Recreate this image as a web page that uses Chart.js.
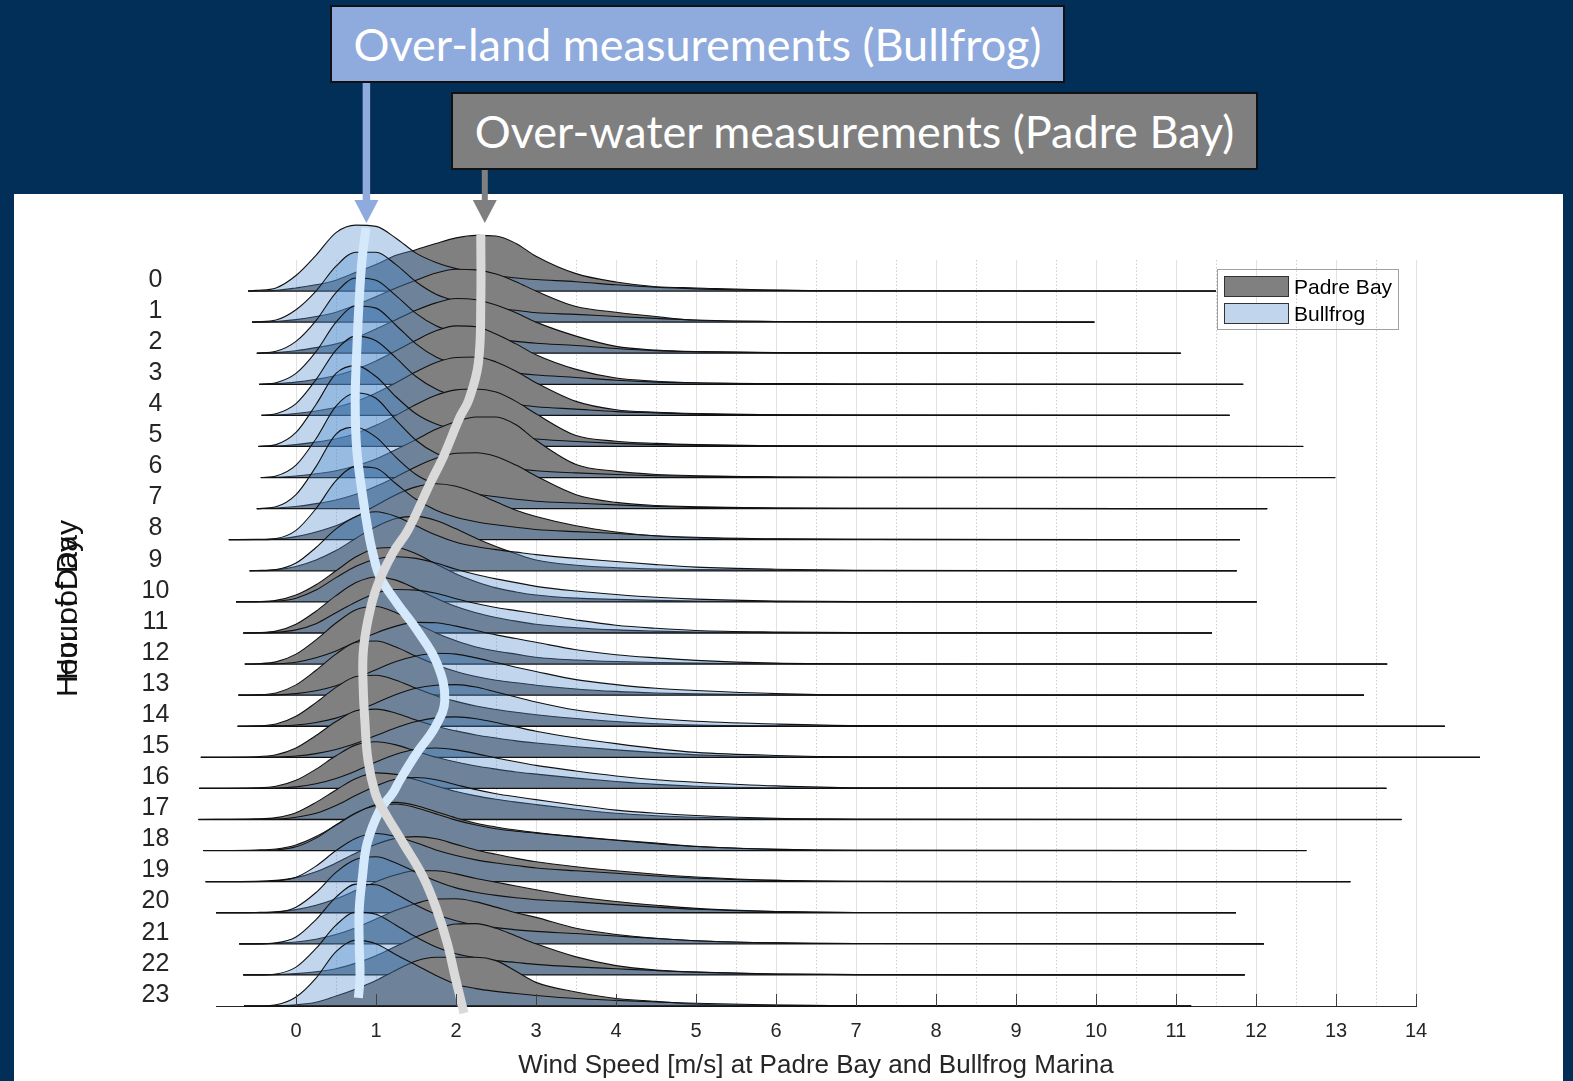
<!DOCTYPE html>
<html>
<head>
<meta charset="utf-8">
<title>Wind speed by hour of day</title>
<script src="https://cdn.jsdelivr.net/npm/chart.js@4.4.1/dist/chart.umd.min.js"></script>
<style>
  html, body { margin: 0; padding: 0; }
  body { width: 1573px; height: 1081px; background: #012f57; position: relative; overflow: hidden;
         font-family: "Liberation Sans", Arial, sans-serif; }
  #panel { position: absolute; left: 14px; top: 194px; width: 1549px; height: 887px; background: #fff; }
  #ridgeCanvas { position: absolute; left: 0; top: 0; }
  .callout { position: absolute; box-sizing: border-box; border: 2px solid #111; color: #fff;
             font-family: Lato, "Open Sans", sans-serif; font-size: 45px; display: flex;
             align-items: center; justify-content: center; white-space: nowrap; }
  #landBox { left: 330px; top: 5px; width: 735px; height: 78px; background: #8faadc; }
  #waterBox { left: 451px; top: 92px; width: 807px; height: 78px; background: #7f7f7f; }
  #legend { position: absolute; left: 1217px; top: 269px; width: 182px; height: 61px;
            box-sizing: border-box; border: 1px solid #a0a0a0; }
  .swatch { position: absolute; left: 6px; width: 65px; height: 21px; box-sizing: border-box; border: 1px solid #333; }
  .legText { position: absolute; left: 76px; font-size: 21px; line-height: 24px; color: #000; }
  .ytitle { position: absolute; font-size: 30px; color: #111; white-space: nowrap;
            transform: translate(-50%, -50%) rotate(-90deg); }
</style>
</head>
<body>
<div id="panel"></div>
<canvas id="ridgeCanvas" width="1573" height="1081"></canvas>
<div class="ytitle" style="left:67px; top:600px;">Hour of Day</div>
<div class="ytitle" style="left:67px; top:617px;">Hour of Day</div>
<div id="legend">
  <div class="swatch" style="top:6px; background:#808080;"></div>
  <div class="legText" style="top:5px;">Padre Bay</div>
  <div class="swatch" style="top:33px; background:#c1d6ed;"></div>
  <div class="legText" style="top:32px;">Bullfrog</div>
</div>
<div class="callout" id="landBox">Over-land measurements (Bullfrog)</div>
<div class="callout" id="waterBox">Over-water measurements (Padre Bay)</div>

<script>
// Hours shown as ridges, top (0) to bottom (23)
var hours = [0, 1, 2, 3, 4, 5, 6, 7, 8, 9, 10, 11, 12, 13, 14, 15, 16, 17, 18, 19, 20, 21, 22, 23];
var windTicks = [0, 1, 2, 3, 4, 5, 6, 7, 8, 9, 10, 11, 12, 13, 14];

// Wind speeds (m/s) where the ridge heights are sampled
var windGrid = [-0.5, -0.25, 0, 0.25, 0.5, 0.75, 1, 1.25, 1.5, 1.75, 2, 2.25, 2.5, 2.75, 3, 3.5, 4, 4.5, 5, 6, 7];

// Where each hour's curve begins and ends on the speed axis
var rowStart = [-0.6, -0.55, -0.49, -0.46, -0.43, -0.47, -0.44, -0.49, -0.84, -0.58, -0.75, -0.66,
                -0.64, -0.72, -0.73, -1.19, -1.21, -1.22, -1.16, -1.13, -1.0, -0.71, -0.66, -0.65];
var rowEnd = [11.5, 9.98, 11.06, 11.84, 11.67, 12.59, 12.99, 12.14, 11.8, 11.76, 12.01, 11.45,
              13.64, 13.35, 14.36, 14.8, 13.63, 13.82, 12.63, 13.18, 11.75, 12.1, 11.86, 11.19];

// Ridge heights per hour (1.0 = one row spacing), sampled at windGrid
var padreDensity = [
  [0.0, 0.02, 0.1, 0.2, 0.35, 0.6, 0.85, 1.15, 1.33, 1.53, 1.71, 1.79, 1.77, 1.53, 1.12, 0.56, 0.29, 0.14, 0.1, 0.03, 0.01],
  [0.0, 0.02, 0.08, 0.18, 0.32, 0.55, 0.82, 1.1, 1.35, 1.58, 1.7, 1.68, 1.55, 1.3, 1.0, 0.5, 0.32, 0.18, 0.06, 0.02, 0.01],
  [0.0, 0.02, 0.08, 0.18, 0.3, 0.5, 0.78, 1.08, 1.38, 1.62, 1.76, 1.72, 1.55, 1.3, 1.0, 0.55, 0.22, 0.1, 0.05, 0.02, 0.01],
  [0.0, 0.02, 0.07, 0.16, 0.28, 0.48, 0.75, 1.08, 1.42, 1.72, 1.88, 1.85, 1.62, 1.3, 0.95, 0.48, 0.2, 0.1, 0.05, 0.02, 0.01],
  [0.0, 0.01, 0.06, 0.14, 0.26, 0.45, 0.72, 1.05, 1.4, 1.7, 1.86, 1.88, 1.72, 1.42, 1.05, 0.45, 0.18, 0.1, 0.06, 0.02, 0.01],
  [0.0, 0.01, 0.06, 0.14, 0.25, 0.42, 0.68, 1.0, 1.35, 1.65, 1.82, 1.85, 1.75, 1.45, 1.05, 0.35, 0.17, 0.1, 0.06, 0.02, 0.01],
  [0.0, 0.01, 0.05, 0.12, 0.22, 0.38, 0.6, 0.9, 1.22, 1.55, 1.8, 1.95, 1.95, 1.7, 1.2, 0.42, 0.2, 0.1, 0.06, 0.02, 0.01],
  [0.0, 0.02, 0.07, 0.16, 0.28, 0.46, 0.72, 1.02, 1.35, 1.62, 1.78, 1.8, 1.68, 1.4, 1.05, 0.45, 0.2, 0.1, 0.06, 0.02, 0.01],
  [0.0, 0.02, 0.1, 0.25, 0.45, 0.75, 1.1, 1.45, 1.7, 1.8, 1.72, 1.5, 1.22, 0.95, 0.75, 0.45, 0.25, 0.12, 0.06, 0.02, 0.01],
  [0.0, 0.03, 0.14, 0.35, 0.65, 1.05, 1.42, 1.68, 1.75, 1.62, 1.35, 1.05, 0.78, 0.55, 0.35, 0.18, 0.1, 0.06, 0.04, 0.02, 0.01],
  [0.01, 0.05, 0.22, 0.55, 1.0, 1.45, 1.72, 1.75, 1.55, 1.22, 0.9, 0.65, 0.45, 0.32, 0.22, 0.12, 0.08, 0.05, 0.03, 0.01, 0.0],
  [0.01, 0.06, 0.28, 0.7, 1.2, 1.62, 1.8, 1.7, 1.42, 1.12, 0.85, 0.65, 0.5, 0.38, 0.28, 0.17, 0.1, 0.06, 0.03, 0.01, 0.0],
  [0.01, 0.07, 0.32, 0.78, 1.32, 1.75, 1.85, 1.65, 1.32, 1.0, 0.75, 0.55, 0.42, 0.32, 0.22, 0.13, 0.08, 0.05, 0.03, 0.01, 0.0],
  [0.01, 0.07, 0.33, 0.8, 1.32, 1.7, 1.74, 1.55, 1.25, 0.98, 0.76, 0.6, 0.48, 0.4, 0.32, 0.2, 0.12, 0.07, 0.04, 0.01, 0.0],
  [0.01, 0.07, 0.32, 0.76, 1.25, 1.6, 1.64, 1.48, 1.22, 0.98, 0.8, 0.65, 0.54, 0.45, 0.37, 0.25, 0.15, 0.08, 0.04, 0.01, 0.0],
  [0.02, 0.08, 0.3, 0.7, 1.15, 1.5, 1.55, 1.42, 1.2, 1.0, 0.85, 0.72, 0.62, 0.53, 0.46, 0.34, 0.24, 0.15, 0.08, 0.02, 0.01],
  [0.02, 0.07, 0.26, 0.62, 1.05, 1.4, 1.5, 1.4, 1.2, 1.0, 0.85, 0.72, 0.62, 0.53, 0.46, 0.33, 0.22, 0.13, 0.07, 0.02, 0.01],
  [0.02, 0.06, 0.22, 0.55, 0.95, 1.32, 1.5, 1.45, 1.28, 1.08, 0.9, 0.76, 0.65, 0.56, 0.48, 0.33, 0.2, 0.12, 0.07, 0.02, 0.01],
  [0.02, 0.05, 0.18, 0.45, 0.82, 1.2, 1.48, 1.55, 1.45, 1.25, 1.05, 0.88, 0.76, 0.66, 0.58, 0.45, 0.34, 0.24, 0.14, 0.04, 0.01],
  [0.01, 0.04, 0.13, 0.32, 0.6, 0.92, 1.2, 1.4, 1.45, 1.38, 1.2, 1.02, 0.88, 0.75, 0.64, 0.48, 0.35, 0.24, 0.15, 0.04, 0.01],
  [0.01, 0.03, 0.1, 0.24, 0.45, 0.72, 1.0, 1.22, 1.35, 1.35, 1.25, 1.1, 0.98, 0.86, 0.74, 0.52, 0.36, 0.24, 0.14, 0.04, 0.01],
  [0.0, 0.02, 0.06, 0.15, 0.3, 0.52, 0.8, 1.08, 1.3, 1.44, 1.45, 1.35, 1.18, 1.0, 0.85, 0.5, 0.3, 0.18, 0.1, 0.03, 0.01],
  [0.0, 0.01, 0.04, 0.1, 0.2, 0.38, 0.62, 0.92, 1.22, 1.48, 1.64, 1.65, 1.5, 1.25, 1.0, 0.58, 0.3, 0.16, 0.09, 0.03, 0.01],
  [0.0, 0.01, 0.04, 0.12, 0.32, 0.55, 0.82, 1.15, 1.45, 1.57, 1.57, 1.57, 1.46, 1.12, 0.76, 0.45, 0.24, 0.15, 0.06, 0.02, 0.01]
];

var bullfrogDensity = [
  [0.02, 0.1, 0.5, 1.15, 1.88, 2.12, 2.08, 1.7, 1.22, 0.92, 0.72, 0.6, 0.5, 0.42, 0.37, 0.3, 0.2, 0.12, 0.07, 0.02, 0.01],
  [0.01, 0.07, 0.4, 1.0, 1.8, 2.25, 2.25, 1.85, 1.3, 0.9, 0.68, 0.55, 0.45, 0.38, 0.3, 0.25, 0.18, 0.12, 0.07, 0.02, 0.01],
  [0.01, 0.06, 0.38, 1.05, 1.95, 2.42, 2.35, 1.85, 1.28, 0.88, 0.66, 0.53, 0.45, 0.38, 0.32, 0.25, 0.15, 0.08, 0.05, 0.02, 0.01],
  [0.01, 0.05, 0.35, 1.05, 2.0, 2.52, 2.45, 1.9, 1.3, 0.88, 0.65, 0.52, 0.44, 0.36, 0.3, 0.22, 0.13, 0.07, 0.04, 0.02, 0.01],
  [0.01, 0.05, 0.38, 1.15, 2.1, 2.55, 2.4, 1.85, 1.25, 0.85, 0.62, 0.5, 0.42, 0.35, 0.28, 0.2, 0.12, 0.08, 0.04, 0.02, 0.01],
  [0.01, 0.06, 0.45, 1.35, 2.35, 2.6, 2.25, 1.6, 1.05, 0.72, 0.55, 0.45, 0.37, 0.3, 0.24, 0.16, 0.1, 0.06, 0.04, 0.02, 0.01],
  [0.01, 0.05, 0.4, 1.25, 2.3, 2.72, 2.55, 1.85, 1.2, 0.78, 0.57, 0.45, 0.36, 0.28, 0.22, 0.15, 0.1, 0.06, 0.04, 0.02, 0.01],
  [0.01, 0.06, 0.45, 1.35, 2.4, 2.62, 2.3, 1.65, 1.1, 0.78, 0.6, 0.47, 0.38, 0.3, 0.24, 0.18, 0.12, 0.07, 0.04, 0.02, 0.01],
  [0.01, 0.04, 0.3, 1.0, 1.9, 2.35, 2.3, 1.8, 1.3, 0.95, 0.72, 0.58, 0.48, 0.4, 0.33, 0.26, 0.2, 0.13, 0.08, 0.03, 0.01],
  [0.01, 0.04, 0.25, 0.75, 1.35, 1.75, 1.9, 1.75, 1.45, 1.15, 0.92, 0.78, 0.68, 0.6, 0.52, 0.4, 0.3, 0.2, 0.12, 0.05, 0.02],
  [0.0, 0.02, 0.12, 0.38, 0.78, 1.15, 1.38, 1.45, 1.4, 1.25, 1.05, 0.88, 0.74, 0.62, 0.5, 0.35, 0.24, 0.15, 0.09, 0.03, 0.01],
  [0.0, 0.02, 0.1, 0.3, 0.65, 1.0, 1.28, 1.4, 1.38, 1.28, 1.1, 0.95, 0.82, 0.72, 0.62, 0.42, 0.25, 0.15, 0.08, 0.03, 0.01],
  [0.0, 0.01, 0.06, 0.2, 0.42, 0.72, 1.0, 1.22, 1.34, 1.33, 1.22, 1.08, 0.94, 0.82, 0.7, 0.46, 0.3, 0.2, 0.12, 0.03, 0.01],
  [0.0, 0.01, 0.05, 0.14, 0.3, 0.55, 0.82, 1.08, 1.26, 1.35, 1.32, 1.2, 1.05, 0.9, 0.76, 0.5, 0.34, 0.22, 0.15, 0.05, 0.01],
  [0.0, 0.01, 0.04, 0.12, 0.26, 0.48, 0.75, 1.02, 1.22, 1.32, 1.34, 1.26, 1.1, 0.94, 0.78, 0.52, 0.36, 0.24, 0.16, 0.07, 0.02],
  [0.0, 0.01, 0.04, 0.12, 0.25, 0.45, 0.7, 0.95, 1.15, 1.27, 1.3, 1.24, 1.12, 0.98, 0.84, 0.62, 0.44, 0.28, 0.16, 0.06, 0.02],
  [0.0, 0.01, 0.05, 0.15, 0.32, 0.56, 0.85, 1.1, 1.26, 1.3, 1.24, 1.12, 0.98, 0.86, 0.74, 0.56, 0.4, 0.28, 0.2, 0.08, 0.02],
  [0.0, 0.01, 0.07, 0.2, 0.45, 0.78, 1.08, 1.3, 1.35, 1.28, 1.12, 0.96, 0.83, 0.73, 0.64, 0.46, 0.3, 0.2, 0.13, 0.04, 0.01],
  [0.0, 0.02, 0.12, 0.4, 0.82, 1.22, 1.45, 1.5, 1.38, 1.18, 0.98, 0.82, 0.7, 0.62, 0.56, 0.44, 0.33, 0.22, 0.13, 0.04, 0.01],
  [0.0, 0.02, 0.14, 0.5, 1.0, 1.4, 1.55, 1.45, 1.25, 1.02, 0.84, 0.7, 0.6, 0.52, 0.44, 0.35, 0.27, 0.18, 0.11, 0.04, 0.01],
  [0.0, 0.02, 0.18, 0.65, 1.3, 1.72, 1.8, 1.6, 1.3, 1.02, 0.8, 0.66, 0.56, 0.48, 0.42, 0.35, 0.26, 0.18, 0.11, 0.04, 0.01],
  [0.0, 0.03, 0.22, 0.78, 1.5, 1.92, 1.9, 1.6, 1.25, 0.95, 0.74, 0.6, 0.52, 0.45, 0.4, 0.33, 0.25, 0.17, 0.1, 0.03, 0.01],
  [0.0, 0.03, 0.25, 0.85, 1.6, 2.02, 1.95, 1.6, 1.22, 0.9, 0.68, 0.55, 0.46, 0.4, 0.34, 0.26, 0.2, 0.14, 0.09, 0.03, 0.01],
  [0.0, 0.04, 0.29, 0.9, 1.75, 2.12, 2.0, 1.65, 1.32, 0.98, 0.7, 0.56, 0.47, 0.4, 0.34, 0.24, 0.18, 0.13, 0.09, 0.03, 0.01]
];

// Hand-drawn traces through the most frequent speed of each hour
var bullfrogTraceSpeed = [0.875, 0.825, 0.79, 0.76, 0.74, 0.76, 0.84, 0.9, 0.96, 1.05, 1.26, 1.51, 1.76,
                          1.86, 1.74, 1.51, 1.3, 1.21, 1.05, 0.89, 0.83, 0.79, 0.79, 0.8, 0.78];
var bullfrogTraceLevel = [25.03, 24.0, 22.71, 21.1, 19.49, 17.89, 16.28, 15.31, 14.57, 13.8, 12.97, 12.1, 11.04,
                          9.84, 8.98, 8.14, 7.27, 6.85, 6.31, 5.24, 4.15, 3.09, 2.03, 0.93, 0.26];
var padreTraceSpeed = [2.31, 2.31, 2.28, 2.16, 2.05, 1.84, 1.68, 1.4, 1.21, 1.01, 0.9, 0.84, 0.84, 0.86,
                       0.9, 0.99, 1.09, 1.34, 1.59, 1.76, 1.89, 1.99, 2.1];
var padreTraceLevel = [24.8, 22.71, 20.69, 19.5, 18.95, 17.66, 16.83, 15.31, 14.57, 13.48, 12.42, 11.36, 10.26,
                       9.2, 7.91, 6.85, 6.31, 5.24, 4.15, 3.09, 2.03, 0.93, -0.23];

// Speeds the two callout arrows point at (modes of hour 0)
var arrowSpeed = [0.88, 2.36];

var PADRE_FILL = '#808080';
var BULLFROG_FILL = 'rgba(78, 138, 204, 0.35)';
var LABEL_LIFT = 0.36;   // hour labels sit slightly above their baseline

function ridgePoints(h, density) {
    var base = 23 - h;
    var pts = [{ x: rowStart[h], y: base }];
    for (var i = 0; i < windGrid.length; i++) {
        if (windGrid[i] > rowStart[h]) {
            pts.push({ x: windGrid[i], y: base + density[i] });
        }
    }
    pts.push({ x: rowEnd[h], y: base });
    return pts;
}

function tracePoints(speeds, levels) {
    var pts = [];
    for (var i = 0; i < speeds.length; i++) {
        pts.push({ x: speeds[i], y: levels[i] });
    }
    return pts;
}

function buildDatasets() {
    var sets = [];
    for (var i = 0; i < hours.length; i++) {
        var h = hours[i];
        var common = {
            borderColor: '#111',
            borderWidth: 1.1,
            pointRadius: 0,
            cubicInterpolationMode: 'monotone',
            clip: false,
            fill: { value: 23 - h }
        };
        sets.push(Object.assign({}, common, {
            label: 'Padre Bay',
            data: ridgePoints(h, padreDensity[h]),
            backgroundColor: PADRE_FILL,
            order: 2 * (23 - h) + 1
        }));
        sets.push(Object.assign({}, common, {
            label: 'Bullfrog',
            data: ridgePoints(h, bullfrogDensity[h]),
            backgroundColor: BULLFROG_FILL,
            order: 2 * (23 - h),
            baselineRow: h
        }));
    }
    // mode traces sit on top of every ridge
    sets.push({
        label: 'Bullfrog mode',
        data: tracePoints(bullfrogTraceSpeed, bullfrogTraceLevel),
        borderColor: '#d5e9fc',
        borderWidth: 9,
        borderCapStyle: 'butt',
        pointRadius: 0,
        tension: 0.4,
        fill: false,
        clip: false,
        order: -1
    });
    sets.push({
        label: 'Padre Bay mode',
        data: tracePoints(padreTraceSpeed, padreTraceLevel),
        borderColor: '#d9d9d9',
        borderWidth: 9,
        borderCapStyle: 'butt',
        pointRadius: 0,
        tension: 0.4,
        fill: false,
        clip: false,
        order: -2
    });
    return sets;
}

// Grid, baselines, inward ticks and callout arrows
var ridgeDecor = {
    id: 'ridgeDecor',
    beforeDatasetsDraw: function (chart) {
        var ctx = chart.ctx;
        var xs = chart.scales.x, ys = chart.scales.y;
        var top = ys.getPixelForValue(24), bottom = ys.getPixelForValue(0);
        ctx.save();
        for (var k = 0; k <= 28; k++) {
            var v = k / 2;
            var px = Math.round(xs.getPixelForValue(v)) + 0.5;
            ctx.beginPath();
            if (k % 2 === 0) {
                ctx.strokeStyle = '#e2e2e2';
                ctx.setLineDash([]);
            } else {
                ctx.strokeStyle = '#cfcfcf';
                ctx.setLineDash([1.5, 2]);
            }
            ctx.lineWidth = 1;
            ctx.moveTo(px, top);
            ctx.lineTo(px, bottom);
            ctx.stroke();
        }
        ctx.restore();
    },
    afterDatasetDraw: function (chart, args) {
        var ds = chart.data.datasets[args.index];
        if (ds.baselineRow === undefined) return;
        var h = ds.baselineRow;
        var xs = chart.scales.x, ys = chart.scales.y;
        var y = ys.getPixelForValue(23 - h);
        var ctx = chart.ctx;
        ctx.save();
        ctx.strokeStyle = '#111';
        ctx.lineWidth = 1.3;
        ctx.beginPath();
        ctx.moveTo(xs.getPixelForValue(rowStart[h]), y);
        ctx.lineTo(xs.getPixelForValue(rowEnd[h]), y);
        ctx.stroke();
        ctx.restore();
    },
    afterDraw: function (chart) {
        var ctx = chart.ctx;
        var xs = chart.scales.x;
        var area = chart.chartArea;
        ctx.save();
        // tick marks point into the plot
        ctx.strokeStyle = '#404040';
        ctx.lineWidth = 1;
        windTicks.forEach(function (t) {
            var px = Math.round(xs.getPixelForValue(t)) + 0.5;
            ctx.beginPath();
            ctx.moveTo(px, area.bottom);
            ctx.lineTo(px, area.bottom - 12);
            ctx.stroke();
        });
        // callout arrows
        drawArrow(ctx, xs.getPixelForValue(arrowSpeed[0]), 83, 223, 7.5, '#8faadc');
        drawArrow(ctx, xs.getPixelForValue(arrowSpeed[1]), 170, 223, 6, '#7f7f7f');
        ctx.restore();
    }
};

function drawArrow(ctx, x, y0, tip, shaft, color) {
    var headH = 23, headW = 24;
    ctx.fillStyle = color;
    ctx.fillRect(x - shaft / 2, y0, shaft, tip - headH - y0 + 1);
    ctx.beginPath();
    ctx.moveTo(x - headW / 2, tip - headH);
    ctx.lineTo(x + headW / 2, tip - headH);
    ctx.lineTo(x, tip);
    ctx.closePath();
    ctx.fill();
}

new Chart(document.getElementById('ridgeCanvas'), {
    type: 'line',
    data: { datasets: buildDatasets() },
    options: {
        responsive: false,
        animation: false,
        devicePixelRatio: 1,
        events: [],
        layout: { padding: { top: 204, right: 157, bottom: 0, left: 0 } },
        plugins: {
            legend: { display: false },
            tooltip: { enabled: false }
        },
        scales: {
            x: {
                type: 'linear',
                min: -1,
                max: 14,
                afterBuildTicks: function (scale) {
                    scale.ticks = windTicks.map(function (v) { return { value: v }; });
                },
                afterFit: function (scale) { scale.height = 75; },
                grid: { display: false, drawTicks: false },
                border: { display: true, color: '#262626', width: 1 },
                ticks: {
                    padding: 13,
                    color: '#262626',
                    font: { family: 'Liberation Sans', size: 20 }
                },
                title: {
                    display: true,
                    text: 'Wind Speed [m/s] at Padre Bay and Bullfrog Marina',
                    color: '#262626',
                    font: { family: 'Liberation Sans', size: 26 },
                    padding: { top: 0, bottom: 0 }
                }
            },
            y: {
                type: 'linear',
                min: 0,
                max: 25.8,
                afterBuildTicks: function (scale) {
                    scale.ticks = hours.slice().reverse().map(function (h) {
                        return { value: 23 - h + LABEL_LIFT };
                    });
                },
                afterFit: function (scale) { scale.width = 216; },
                grid: { display: false, drawTicks: false },
                border: { display: false },
                ticks: {
                    padding: 46.6,
                    crossAlign: 'center',
                    color: '#262626',
                    font: { family: 'Liberation Sans', size: 25 },
                    callback: function (value) {
                        return String(hours[23 - Math.round(value - LABEL_LIFT)]);
                    }
                }
            }
        }
    },
    plugins: [ridgeDecor]
});
</script>
</body>
</html>
